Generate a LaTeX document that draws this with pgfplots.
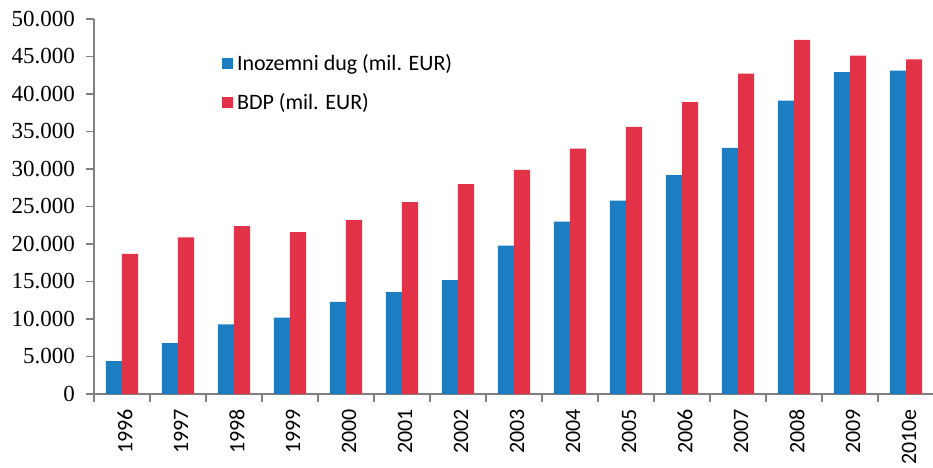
\documentclass[border=0pt]{standalone}
\usepackage{fontspec}
\setmainfont{Carlito}
\newfontfamily\serifticks{Liberation Serif}
\usepackage{pgfplots}
\pgfplotsset{compat=1.18}
\definecolor{dugblue}{RGB}{28,126,192}
\definecolor{bdpred}{RGB}{226,50,72}
\definecolor{axisgray}{RGB}{128,128,128}

\begin{document}
\begin{tikzpicture}
\path[use as bounding box] (0,0) rectangle (466.5pt,233.5pt);
\begin{axis}[
    at={(47pt,36.5pt)}, anchor=south west,
    width=420pt, height=187.5pt, scale only axis,
    ybar=0pt, bar width=0.29,
    xmin=-0.5, xmax=14.5, ymin=0, ymax=50000,
    axis lines*=left,
    axis line style={axisgray, line width=0.6pt},
    tick align=outside, major tick length=4pt,
    tick style={axisgray, line width=0.6pt},
    xtick={-0.5,0.5,...,14.5},
    x tick label as interval,
    xticklabels={1996,1997,1998,1999,2000,2001,2002,2003,2004,2005,2006,2007,2008,2009,2010e},
    x tick label style={rotate=90, anchor=east, yshift=-1.5pt, font=\fontsize{11}{13}\selectfont},
    ytick={0,5000,...,50000},
    scaled y ticks=false,
    y tick label style={font=\serifticks\fontsize{11.5}{13}\selectfont, xshift=-2pt,
        /pgf/number format/.cd, 1000 sep={.}, assume math mode=true},
    legend style={at={(0.152,0.918)}, anchor=north west, draw=none, fill=none,
        font=\fontsize{11}{13}\selectfont, row sep=6pt, inner sep=0pt,
        /tikz/every even column/.append style={column sep=3pt}},
    legend cell align=left,
    legend image code/.code={\fill[#1] (-1pt,-2.75pt) rectangle (4.5pt,2.75pt);},
]
\addplot[fill=dugblue, draw=none] coordinates {
    (0,4400) (1,6800) (2,9300) (3,10200) (4,12300) (5,13600) (6,15200)
    (7,19800) (8,23000) (9,25800) (10,29200) (11,32800) (12,39100)
    (13,42900) (14,43100)
};
\addlegendentry{Inozemni dug (mil. EUR)}
\addplot[fill=bdpred, draw=none] coordinates {
    (0,18700) (1,20900) (2,22400) (3,21600) (4,23200) (5,25600) (6,28000)
    (7,29900) (8,32700) (9,35600) (10,38900) (11,42700) (12,47200)
    (13,45100) (14,44600)
};
\addlegendentry{BDP (mil. EUR)}
\end{axis}
\end{tikzpicture}
\end{document}
